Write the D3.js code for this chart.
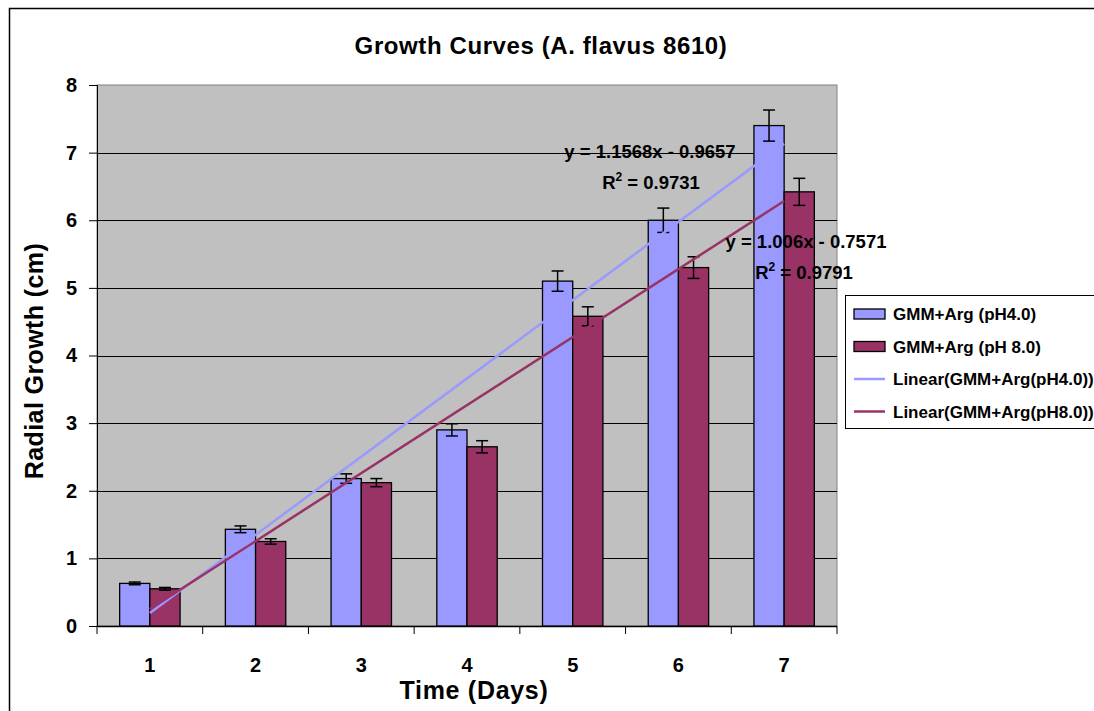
<!DOCTYPE html>
<html>
<head>
<meta charset="utf-8">
<script src="https://cdn.jsdelivr.net/npm/d3@7"></script>
<style>
  body { margin: 0; background: #fff; }
  text { font-family: "Liberation Sans", Arial, sans-serif; font-weight: bold; fill: #000; }
</style>
</head>
<body>
<div id="chart"></div>
<script>
// DATA
var days = ["1", "2", "3", "4", "5", "6", "7"];
var seriesNames = ["GMM+Arg (pH4.0)", "GMM+Arg (pH 8.0)"];
var ph4 = [0.63, 1.43, 2.18, 2.90, 5.10, 6.00, 7.40];
var ph8 = [0.55, 1.25, 2.12, 2.65, 4.58, 5.30, 6.42];
var ph4Err = [0.02, 0.05, 0.07, 0.09, 0.15, 0.18, 0.23];
var ph8Err = [0.02, 0.04, 0.06, 0.09, 0.14, 0.16, 0.20];
// trendline coefficients [slope, intercept, r2]
var trend4 = [1.1568, -0.9657, 0.9731];
var trend8 = [1.006, -0.7571, 0.9791];
var trendNames = ["Linear(GMM+Arg(pH4.0))", "Linear(GMM+Arg(pH8.0))"];
var yTicks = [0, 1, 2, 3, 4, 5, 6, 7, 8];

var colors = ["#9999FF", "#993366"];

// SIZES
var W = 1094, H = 711;
var plot = {left: 97, top: 85, right: 837, bottom: 626};

var svg = d3.select("#chart").append("svg")
    .attr("width", W).attr("height", H);

// outer chart border
svg.append("rect")
    .attr("x", 9.5).attr("y", 8.5).attr("width", W + 20).attr("height", H + 20)
    .attr("fill", "#fff").attr("stroke", "#000").attr("stroke-width", 1.5);

var x = d3.scaleBand().domain(days).range([plot.left, plot.right]).padding(0);
var y = d3.scaleLinear().domain([0, 8]).range([plot.bottom, plot.top]);

var barW = x.bandwidth() / 3.5; // gap width 150%
var xs = d3.scaleBand().domain([0, 1])
    .range([0, barW * 2]);

// plot area
svg.append("rect")
    .attr("x", plot.left).attr("y", plot.top)
    .attr("width", plot.right - plot.left).attr("height", plot.bottom - plot.top)
    .attr("fill", "#C0C0C0").attr("stroke", "#808080").attr("stroke-width", 1);

// gridlines
svg.append("g").selectAll("line")
  .data(yTicks.filter(function(d) { return d > 0 && d < 8; }))
  .enter().append("line")
    .attr("x1", plot.left).attr("x2", plot.right)
    .attr("y1", function(d) { return Math.round(y(d)) + 0.5; })
    .attr("y2", function(d) { return Math.round(y(d)) + 0.5; })
    .attr("stroke", "#000").attr("stroke-width", 1);

// y axis
var yAxis = svg.append("g")
    .attr("transform", "translate(" + plot.left + ",0)")
    .call(d3.axisLeft(y).tickValues(yTicks).tickSize(8).tickPadding(12));
yAxis.select(".domain").attr("stroke", "#000").attr("stroke-width", 1);
yAxis.selectAll(".tick line").attr("stroke", "#000");
yAxis.selectAll(".tick text").style("font-size", "20px").attr("font-family", null);

// x axis: ticks at category boundaries
var xAxis = svg.append("g")
    .attr("transform", "translate(0," + plot.bottom + ")");
xAxis.append("line")
    .attr("x1", plot.left).attr("x2", plot.right)
    .attr("y1", 0.5).attr("y2", 0.5).attr("stroke", "#000").attr("stroke-width", 1.5);
var bounds = days.map(function(d) { return x(d); }).concat([plot.right]);
xAxis.selectAll("line.tk").data(bounds).enter().append("line")
    .attr("class", "tk")
    .attr("x1", function(d) { return d; }).attr("x2", function(d) { return d; })
    .attr("y1", 0).attr("y2", 8).attr("stroke", "#000").attr("stroke-width", 1);
xAxis.selectAll("text").data(days).enter().append("text")
    .attr("x", function(d) { return x(d) + x.bandwidth() / 2; })
    .attr("y", 46)
    .attr("text-anchor", "middle")
    .style("font-size", "20px")
    .text(function(d) { return d; });

// bars
var series = [ph4, ph8];
var errs = [ph4Err, ph8Err];
series.forEach(function(vals, s) {
  var g = svg.append("g");
  g.selectAll("rect").data(vals).enter().append("rect")
    .attr("x", function(d, i) { return x(days[i]) + (x.bandwidth() - 2 * barW) / 2 + xs(s); })
    .attr("y", function(d) { return y(d); })
    .attr("width", barW)
    .attr("height", function(d) { return plot.bottom - y(d); })
    .attr("fill", colors[s]).attr("stroke", "#000").attr("stroke-width", 1.3);
});

// error bars
series.forEach(function(vals, s) {
  var g = svg.append("g").attr("stroke", "#000").attr("stroke-width", 1.5);
  vals.forEach(function(v, i) {
    var cx = x(days[i]) + (x.bandwidth() - 2 * barW) / 2 + xs(s) + barW / 2;
    var e = errs[s][i];
    g.append("line").attr("x1", cx).attr("x2", cx).attr("y1", y(v + e)).attr("y2", y(v - e));
    g.append("line").attr("x1", cx - 6).attr("x2", cx + 6).attr("y1", y(v + e)).attr("y2", y(v + e));
    g.append("line").attr("x1", cx - 6).attr("x2", cx + 6).attr("y1", y(v - e)).attr("y2", y(v - e));
  });
});

// trendlines
var cxDay = function(k) { return x(days[k - 1]) + x.bandwidth() / 2; };
[trend4, trend8].forEach(function(t, s) {
  svg.append("line")
    .attr("x1", cxDay(1)).attr("y1", y(t[0] * 1 + t[1]))
    .attr("x2", cxDay(7)).attr("y2", y(t[0] * 7 + t[1]))
    .attr("stroke", colors[s]).attr("stroke-width", 2.5);
});

// trendline labels
function eqText(t) {
  return "y = " + t[0] + "x - " + Math.abs(t[1]);
}
var labelPos = [[650, 158, 651, 189], [806, 248, 804, 279]];
[trend4, trend8].forEach(function(t, s) {
  var p = labelPos[s];
  svg.append("text").attr("x", p[0]).attr("y", p[1]).attr("text-anchor", "middle")
    .style("font-size", "18.5px").text(eqText(t));
  var r = svg.append("text").attr("x", p[2]).attr("y", p[3]).attr("text-anchor", "middle")
    .style("font-size", "18.5px");
  r.append("tspan").text("R");
  r.append("tspan").attr("dy", -8).style("font-size", "12px").text("2");
  r.append("tspan").attr("dy", 8).text(" = " + t[2]);
});

// title
svg.append("text").attr("x", 541).attr("y", 54).attr("text-anchor", "middle")
  .style("font-size", "24px").style("letter-spacing", "0.6px")
  .text("Growth Curves (A. flavus 8610)");

// axis titles
svg.append("text").attr("transform", "translate(43,361)rotate(-90)")
  .attr("text-anchor", "middle").style("font-size", "25px").style("letter-spacing", "0.4px")
  .text("Radial Growth (cm)");
svg.append("text").attr("x", 474).attr("y", 699).attr("text-anchor", "middle")
  .style("font-size", "25px").style("letter-spacing", "0.7px").text("Time (Days)");

// legend
var legend = svg.append("g").attr("transform", "translate(845,295)");
legend.append("rect").attr("x", 0.5).attr("y", 0.5).attr("width", 300).attr("height", 133)
  .attr("fill", "#fff").attr("stroke", "#000").attr("stroke-width", 1);
var items = [
  {name: seriesNames[0], type: "bar", c: colors[0]},
  {name: seriesNames[1], type: "bar", c: colors[1]},
  {name: trendNames[0], type: "line", c: colors[0]},
  {name: trendNames[1], type: "line", c: colors[1]}
];
items.forEach(function(it, i) {
  var cy = 19 + i * 32.5;
  if (it.type === "bar") {
    legend.append("rect").attr("x", 9).attr("y", cy - 5).attr("width", 31).attr("height", 10)
      .attr("fill", it.c).attr("stroke", "#000").attr("stroke-width", 1.3);
  } else {
    legend.append("line").attr("x1", 9).attr("x2", 40).attr("y1", cy).attr("y2", cy)
      .attr("stroke", it.c).attr("stroke-width", 2.5);
  }
  legend.append("text").attr("x", 48).attr("y", cy + 6).style("font-size", "17px").text(it.name);
});
</script>
</body>
</html>
